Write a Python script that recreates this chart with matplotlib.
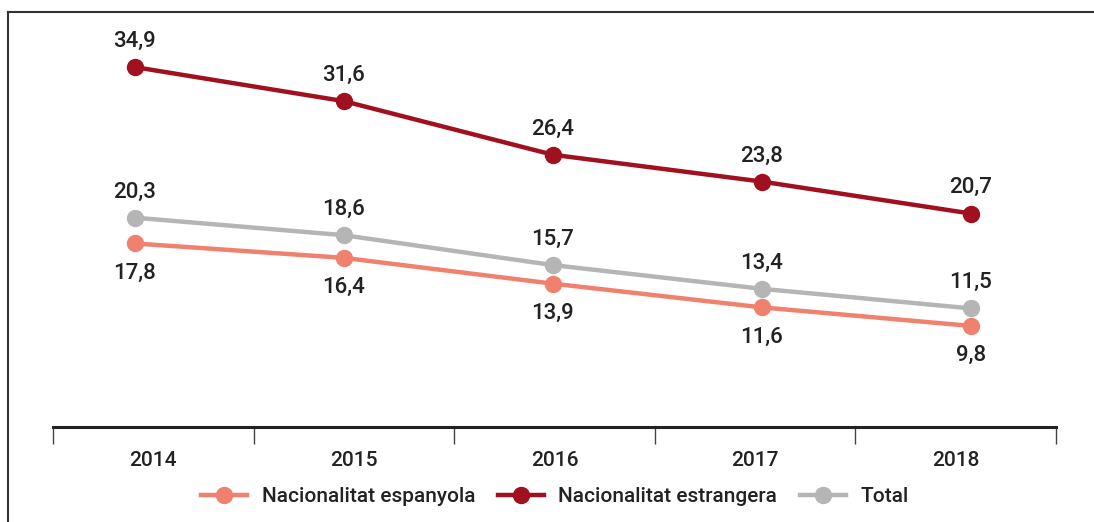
import matplotlib.pyplot as plt
from matplotlib.lines import Line2D

plt.rcParams['font.family'] = ['Roboto', 'DejaVu Sans']
plt.rcParams['font.weight'] = 'medium'

years = ['2014', '2015', '2016', '2017', '2018']
espanyola = [17.8, 16.4, 13.9, 11.6, 9.8]
estrangera = [34.9, 31.6, 26.4, 23.8, 20.7]
total = [20.3, 18.6, 15.7, 13.4, 11.5]

c_esp = '#F0816E'
c_est = '#A0101E'
c_tot = '#B5B5B5'

fig = plt.figure(figsize=(10.94, 5.22), dpi=100)
ax = fig.add_axes([53 / 1094, 1 - 427 / 522, (1056 - 53) / 1094, (427 - 30) / 522])

x = list(range(len(years)))
ax.set_xlim(-0.392, 4.407)
ax.set_ylim(0, 38.5)

ax.plot(x, espanyola, color=c_esp, lw=3.2, marker='o', ms=11.5, label='Nacionalitat espanyola', zorder=3)
ax.plot(x, estrangera, color=c_est, lw=3.2, marker='o', ms=11.5, label='Nacionalitat estrangera', zorder=3)
ax.plot(x, total, color=c_tot, lw=3.2, marker='o', ms=11.5, label='Total', zorder=2)

def fmt(v):
    return f'{v:.1f}'.replace('.', ',')

for i in x:
    ax.annotate(fmt(estrangera[i]), (i, estrangera[i]), xytext=(0, 18.5), textcoords='offset points',
                ha='center', va='center', fontsize=16, color='#222222')
    ax.annotate(fmt(total[i]), (i, total[i]), xytext=(0, 18.5), textcoords='offset points',
                ha='center', va='center', fontsize=16, color='#222222')
    ax.annotate(fmt(espanyola[i]), (i, espanyola[i]), xytext=(0, -21.5), textcoords='offset points',
                ha='center', va='center', fontsize=16, color='#222222')

for s in ['top', 'right', 'left', 'bottom']:
    ax.spines[s].set_visible(False)
ax.set_xticks([])
ax.set_yticks([])

# category axis
cat = ax.twiny()
cat.set_xlim(0, len(years))
cat.xaxis.set_ticks_position('bottom')
cat.xaxis.set_label_position('bottom')
cat.set_xticks(range(len(years) + 1))
cat.set_xticklabels([])
cat.set_xticks([i + 0.5 for i in range(len(years))], minor=True)
cat.set_xticklabels(years, minor=True, fontsize=15, color='#222222')
cat.tick_params(axis='x', which='major', length=12, width=1, color='#444444')
cat.tick_params(axis='x', which='minor', length=0, pad=17)
for s in ['top', 'right', 'left']:
    cat.spines[s].set_visible(False)
cat.spines['bottom'].set_linewidth(2.2)
cat.spines['bottom'].set_color('#222222')

leg = ax.legend(loc='center', bbox_to_anchor=(555 / 1094, 25 / 522), bbox_transform=fig.transFigure,
                ncol=3, frameon=False, fontsize=15, handlelength=2.2, handletextpad=0.7,
                columnspacing=1.1, markerscale=1.0)
for t in leg.get_texts():
    t.set_color('#222222')

# frame
fig.add_artist(Line2D([8 / 1094, 8 / 1094], [0, 1 - 12 / 522], color='#333333', lw=1.5))
fig.add_artist(Line2D([8 / 1094, 1], [1 - 12 / 522, 1 - 12 / 522], color='#333333', lw=1.5))

fig.savefig('out.png', dpi=100)
